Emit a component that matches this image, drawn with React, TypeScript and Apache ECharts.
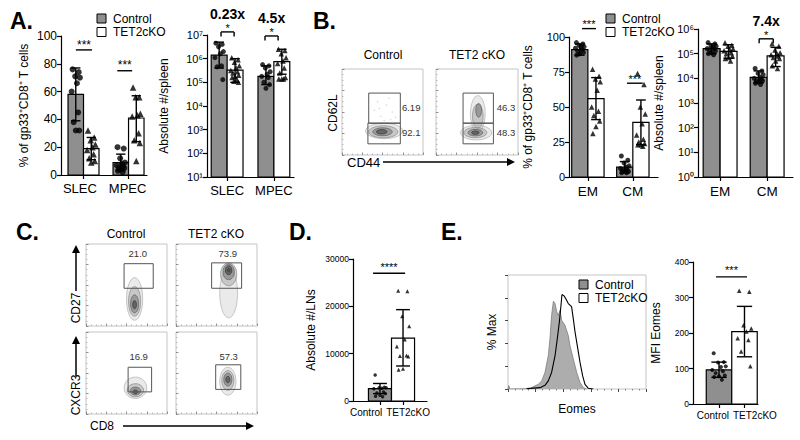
import React, { useEffect, useRef } from "react";
import * as echarts from "echarts";

const FONT = "'Liberation Sans', Arial, Helvetica, sans-serif";
const CTRL_FILL = "#8f8f8f";

// ---------------- Panel A (left): % of gp33+CD8+ T cells ----------------
const aCats = ["SLEC", "MPEC"];
const aPctCtrlMean = [58, 9];
const aPctKoMean = [19, 41];
const aPctCtrlErr = [[39, 77], [3, 15]];
const aPctKoErr = [[11, 27], [24, 57]];
const aPctCtrlPts = [[76, 74, 71, 70, 66, 60, 45, 38, 32, 32], [20, 19, 12, 9, 8, 7, 6, 5, 5, 4, 3, 2]];
const aPctKoPts = [[32, 27, 25, 22, 20, 18, 15, 12, 10, 9], [63, 56, 56, 44, 43, 42, 30, 25, 23, 10]];
const aPctStars = ["***", "***"];

// ---------------- Panel A (right): Absolute #/spleen ----------------
const aAbsCtrlMean = [1.4e6, 1.8e5];
const aAbsKoMean = [3.3e5, 7.5e5];
const aAbsCtrlErr = [[4e5, 5e6], [8e4, 5e5]];
const aAbsKoErr = [[1e5, 1e6], [2.2e5, 2.5e6]];
const aAbsCtrlPts = [[4.5e6, 4e6, 3.2e6, 2e6, 1.6e6, 1.1e6, 5e5, 4.5e5, 1.3e5], [5.6e5, 5e5, 4e5, 2.8e5, 2.2e5, 1.8e5, 1.6e5, 1e5, 8e4, 5.6e4]];
const aAbsKoPts = [[1.1e6, 9e5, 7e5, 5e5, 4e5, 3.2e5, 2.8e5, 2.5e5, 2e5, 1.8e5, 1.6e5, 1.3e5, 1.1e5, 1e5], [2.5e6, 2.2e6, 1.6e6, 1.1e6, 8e5, 6.3e5, 4e5, 2.5e5, 1.6e5, 1.4e5, 1.4e5, 1.4e5]];
const aAbsStars = ["*", "*"];
const aAbsFold = ["0.23x", "4.5x"];

// ---------------- Panel B (left): % EM / CM ----------------
const bCats = ["EM", "CM"];
const bPctCtrlMean = [91, 7];
const bPctKoMean = [56, 39];
const bPctCtrlErr = [[87, 95], [3, 11]];
const bPctKoErr = [[41, 71], [23, 55]];
const bPctCtrlPts = [[96, 95, 94, 93, 93, 92, 91, 90, 89, 88, 87], [15, 12, 10, 8, 7, 6, 5, 5, 4, 4, 3, 3]];
const bPctKoPts = [[77, 72, 70, 68, 62, 50, 47, 44, 40, 36, 31], [74, 66, 50, 45, 38, 30, 27, 25, 24, 23, 23, 22]];
const bPctStars = ["***", "***"];

// ---------------- Panel B (right): Absolute #/spleen ----------------
const bAbsCtrlMean = [1.6e5, 1.1e4];
const bAbsKoMean = [1.25e5, 8.2e4];
const bAbsCtrlErr = [[1e5, 2.5e5], [6.5e3, 2e4]];
const bAbsKoErr = [[6.5e4, 2.3e5], [3e4, 1.8e5]];
const bAbsCtrlPts = [[2.8e5, 2.5e5, 2e5, 2e5, 1.8e5, 1.6e5, 1.6e5, 1.4e5, 1.3e5, 1.1e5, 1e5, 9e4], [2.5e4, 2e4, 1.6e4, 1.4e4, 1.1e4, 1e4, 9e3, 8e3, 8e3, 7e3, 6.3e3, 5.6e3]];
const bAbsKoPts = [[2.8e5, 2.2e5, 2e5, 1.6e5, 1.4e5, 1.3e5, 1.1e5, 1e5, 8e4, 7e4, 6.3e4, 5e4], [2.5e5, 2e5, 1.4e5, 1.1e5, 1e5, 9e4, 8e4, 7e4, 6.3e4, 5e4, 3.2e4, 2.5e4]];
const bAbsStars = ["*"];
const bAbsFold = ["7.4x"];

// ---------------- Panel D: Absolute #/LNs ----------------
const dCats = ["Control", "TET2cKO"];
const dCtrlMean = [2600];
const dKoMean = [13300];
const dCtrlErr = [[1550, 3700]];
const dKoErr = [[7400, 19300]];
const dCtrlPts = [[5500, 2900, 2800, 2800, 2700, 2600, 1900, 1700, 1600, 1200, 1000, 900]];
const dKoPts = [[23300, 23200, 17900, 15800, 13000, 11500, 9600, 9500, 9400, 6800, 6600]];
const dStars = ["****"];

// ---------------- Panel E: MFI Eomes ----------------
const eCats = ["Control", "TET2cKO"];
const eCtrlMean = [96];
const eKoMean = [204];
const eCtrlErr = [[75, 118]];
const eKoErr = [[133, 275]];
const eCtrlPts = [[143, 118, 117, 106, 104, 96, 92, 87, 80, 78, 76, 68]];
const eKoPts = [[319, 316, 222, 213, 204, 185, 180, 148, 106]];
const eStars = ["***"];

// ---------------- Panel E histogram (% Max vs Eomes) ----------------
const eHistCtrlX = [0, 0.6, 1.3, 15.9, 18.4, 22.0, 24.4, 26.8, 29.2, 30.4, 31.6, 32.9, 34.1, 35.3, 36.5, 37.7, 38.9, 41.3, 43.7, 44.9, 47.3, 49.8, 52.2, 54.6, 57.0];
const eHistCtrlY = [0, 3, 0, 0.3, 2.1, 4.1, 7.1, 14.5, 29.2, 44.0, 64.6, 77.0, 74.9, 67.6, 64.6, 69.0, 60.2, 55.8, 46.9, 38.1, 26.3, 14.5, 5.6, 1.2, 0];
const eHistKoX = [13.5, 23.2, 26.8, 29.2, 31.6, 34.1, 35.7, 37.2, 38.4, 39.1, 40.6, 41.8, 43.7, 44.9, 46.1, 47.3, 48.6, 50.2, 52.2, 54.1, 55.8, 58.2, 61.8];
const eHistKoY = [0.3, 1.2, 3.2, 7.1, 14.5, 29.2, 44.0, 58.7, 73.5, 82.9, 81.7, 79.4, 74.9, 73.5, 72.0, 61.7, 49.9, 38.1, 23.3, 11.5, 4.1, 0.6, 0];

// ---------------- Flow plots (contours: cx, cy, rx, ry, level) ----------------
const bFlowCtrlContours = [[52, 28, 23, 9, 0], [51, 27, 18, 7, 1], [50, 27, 12, 4.6, 2], [49, 27, 6.5, 2.6, 3]];
const bFlowKoContours = [[51, 48, 9, 21, 0], [51, 45, 6.5, 14, 1], [52, 52, 3.5, 8, 2], [49, 26, 19, 8.5, 0], [48, 26, 14, 6, 1], [48, 26, 9, 3.8, 2], [48, 26, 4.5, 2, 3]];
const bFlowCtrlDots = [[44, 62], [55, 58], [62, 50], [48, 45], [58, 66], [66, 44], [40, 52], [52, 40], [60, 41], [46, 54]];
const bFlowCtrlGates = [[33, 37, 72, 72], [32, 13, 72, 37]];
const bFlowKoGates = [[33, 37, 70, 72], [33, 13, 70, 37]];
const bFlowCtrlPct = ["6.19", "92.1"];
const bFlowKoPct = ["46.3", "48.3"];
const bFlowPctPos = [[74, 55], [74, 26]];

const cCd27CtrlContours = [[60, 33, 10, 26, 0], [60, 30, 7.5, 18, 1], [60, 27, 5, 11, 2], [60, 26, 2.3, 5, 3]];
const cCd27KoContours = [[65, 40, 11, 30, 0], [65, 63, 10, 14, 1], [65, 66, 7, 9.5, 2], [65, 68, 4, 5.5, 3], [65, 68, 1.5, 2, 3]];
const cCxcr3CtrlContours = [[61, 32, 14, 13, 0], [61, 29, 10, 8, 1], [61, 28, 6.5, 4.8, 2], [61, 27, 3, 2.4, 3]];
const cCxcr3KoContours = [[64, 40, 10, 17, 0], [64, 41, 7.5, 12, 1], [64, 42, 5, 8, 2], [64, 42, 2.5, 4, 3]];
const cCd27CtrlGate = [[47, 46, 83, 76]];
const cCd27KoGate = [[44, 46, 81, 77]];
const cCxcr3CtrlGate = [[52, 27, 81, 57]];
const cCxcr3KoGate = [[49, 30, 80, 60]];
const cCd27CtrlPct = ["21.0"];
const cCd27KoPct = ["73.9"];
const cCxcr3CtrlPct = ["16.9"];
const cCxcr3KoPct = ["57.3"];
const cCd27PctPos = [[64, 89]];
const cCxcr3PctPos = [[65, 70]];

// fixed horizontal jitter pattern for the dot plots (fraction of a bar width)
const JIT = [-0.55, 0.5, -0.1, 0.7, 0.2, -0.7, 0.4, -0.35, 0.6, 0.0, -0.5, 0.3, -0.2, 0.55];

const SUP = ["⁰", "¹", "²", "³", "⁴", "⁵", "⁶", "⁷", "⁸", "⁹"];
const logLabel = (v: number) => "10" + SUP[Math.round(Math.log10(v))];

type BarSpec = {
  box: number[];
  xMin: number; xMax: number; barW: number;
  ctrlX: number[]; koX: number[]; tickPos: number[]; labelPos: number[]; labels: string[];
  log: boolean; yMin: number; yMax: number; yInterval?: number;
  ctrlMean: number[]; koMean: number[]; ctrlErr: number[][]; koErr: number[][];
  ctrlPts: number[][]; koPts: number[][];
  sig: number[][]; stars: string[]; folds: string[];
  yName: string; nameGap: number; tickFont: number; catFont: number;
  starFont: number; starGap: number; ptSize: number; labelMargin: number;
};

function buildOption() {
  const grid: any[] = [];
  const xAxis: any[] = [];
  const yAxis: any[] = [];
  const series: any[] = [];
  const black = { color: "#000", width: 1.2 };

  const addBarPanel = (s: BarSpec) => {
    const i = grid.length;
    grid.push({ left: s.box[0], top: s.box[1], width: s.box[2], height: s.box[3] });
    xAxis.push({
      gridIndex: i, type: "value", min: s.xMin, max: s.xMax,
      axisLine: { show: true, onZero: false, lineStyle: black },
      axisTick: { show: true, customValues: s.tickPos, length: 4, lineStyle: black },
      axisLabel: {
        customValues: s.labelPos, fontSize: s.catFont, fontFamily: FONT, color: "#000", margin: s.labelMargin,
        showMinLabel: true, showMaxLabel: true,
        formatter: (v: number) => { const k = s.labelPos.findIndex((p) => Math.abs(p - v) < 1e-6); return k >= 0 ? s.labels[k] : ""; },
      },
      splitLine: { show: false },
    });
    yAxis.push({
      gridIndex: i, type: s.log ? "log" : "value", logBase: 10, min: s.yMin, max: s.yMax,
      interval: s.log ? undefined : s.yInterval, splitNumber: s.log ? 10 : undefined,
      axisLine: { show: true, onZero: false, lineStyle: black },
      axisTick: { show: true, length: 4, lineStyle: black },
      axisLabel: { fontSize: s.tickFont, fontFamily: FONT, color: "#000", margin: 4, formatter: s.log ? logLabel : (v: number) => String(v) },
      splitLine: { show: false },
      name: s.yName, nameLocation: "middle", nameGap: s.nameGap, nameMoveOverlap: false,
      nameTextStyle: { fontSize: 12, fontFamily: FONT, color: "#000" },
    });
    const barSeries = (xs: number[], means: number[], fill: string) => ({
      type: "custom", xAxisIndex: i, yAxisIndex: i, z: 2, silent: true,
      data: xs.map((x, k) => [x, means[k]]),
      encode: { x: 0, y: 1 },
      renderItem: (_p: any, api: any) => {
        const x = api.value(0), y = api.value(1);
        const a = api.coord([x - s.barW / 2, y]);
        const b = api.coord([x + s.barW / 2, s.yMin]);
        return { type: "rect", shape: { x: a[0], y: a[1], width: b[0] - a[0], height: b[1] - a[1] }, style: { fill, stroke: "#000", lineWidth: 1.2 } };
      },
    });
    series.push(barSeries(s.ctrlX, s.ctrlMean, CTRL_FILL));
    series.push(barSeries(s.koX, s.koMean, "#fff"));
    const ptSeries = (xs: number[], pts: number[][], symbol: string, size: number) => {
      const data: number[][] = [];
      pts.forEach((grp, k) => grp.forEach((v, j) => data.push([xs[k] + JIT[j % JIT.length] * s.barW * 0.38, v])));
      return { type: "scatter", xAxisIndex: i, yAxisIndex: i, z: 4, silent: true, symbol, symbolSize: size, itemStyle: { color: "#000" }, data };
    };
    series.push(ptSeries(s.ctrlX, s.ctrlPts, "circle", s.ptSize));
    series.push(ptSeries(s.koX, s.koPts, "triangle", s.ptSize + 0.5));
    const errSeries = (xs: number[], errs: number[][]) => ({
      type: "custom", xAxisIndex: i, yAxisIndex: i, z: 5, silent: true,
      data: xs.map((x, k) => [x, errs[k][0], errs[k][1]]),
      encode: { x: 0, y: [1, 2] },
      renderItem: (_p: any, api: any) => {
        const x = api.value(0);
        const t = api.coord([x, api.value(2)]);
        const b = api.coord([x, api.value(1)]);
        const hw = (api.coord([x + s.barW * 0.3, api.value(2)])[0] - t[0]);
        const st = { stroke: "#000", lineWidth: 1.4 };
        return {
          type: "group", children: [
            { type: "line", shape: { x1: t[0], y1: t[1], x2: b[0], y2: b[1] }, style: st },
            { type: "line", shape: { x1: t[0] - hw, y1: t[1], x2: t[0] + hw, y2: t[1] }, style: st },
            { type: "line", shape: { x1: b[0] - hw, y1: b[1], x2: b[0] + hw, y2: b[1] }, style: st },
          ],
        };
      },
    });
    series.push(errSeries(s.ctrlX, s.ctrlErr));
    series.push(errSeries(s.koX, s.koErr));
    series.push({
      type: "custom", xAxisIndex: i, yAxisIndex: i, z: 6, silent: true,
      data: s.sig,
      encode: { x: [0, 1], y: 2 },
      renderItem: (p: any, api: any) => {
        const k = p.dataIndex;
        const y = api.value(2);
        const a = api.coord([api.value(0), y]);
        const b = api.coord([api.value(1), y]);
        const st = { stroke: "#000", lineWidth: 1.4 };
        const children: any[] = [{ type: "line", shape: { x1: a[0], y1: a[1], x2: b[0], y2: b[1] }, style: st }];
        if (api.value(3) === 1) {
          children.push({ type: "line", shape: { x1: a[0], y1: a[1], x2: a[0], y2: a[1] + 4.5 }, style: st });
          children.push({ type: "line", shape: { x1: b[0], y1: b[1], x2: b[0], y2: b[1] + 4.5 }, style: st });
        }
        const cx = (a[0] + b[0]) / 2;
        children.push({ type: "text", x: cx, y: a[1] - s.starGap + 0.22 * s.starFont, style: { text: s.stars[k], fontSize: s.starFont, fontFamily: FONT, fill: "#000", align: "center", verticalAlign: "middle" } });
        if (s.folds[k]) {
          children.push({ type: "text", x: cx, y: a[1] - 18, style: { text: s.folds[k], fontSize: 14, fontWeight: "bold", fontFamily: FONT, fill: "#000", align: "center", verticalAlign: "middle" } });
        }
        return { type: "group", children };
      },
    });
  };

  const pair = (w: number) => ({ ctrlX: [-w / 2, 1 - w / 2], koX: [w / 2, 1 + w / 2] });

  addBarPanel({
    box: [61, 36, 86, 139], xMin: -0.5, xMax: 1.41, barW: 0.344, ...pair(0.344), tickPos: [0, 1], labelPos: [-0.08, 0.98], labels: aCats,
    log: false, yMin: 0, yMax: 100, yInterval: 20,
    ctrlMean: aPctCtrlMean, koMean: aPctKoMean, ctrlErr: aPctCtrlErr, koErr: aPctKoErr, ctrlPts: aPctCtrlPts, koPts: aPctKoPts,
    sig: [[-0.17, 0.19, 90, 0], [0.75, 1.08, 75, 0]], stars: aPctStars, folds: ["", ""],
    yName: "% of gp33⁺CD8⁺ T cells", nameGap: 31, tickFont: 12, catFont: 13, starFont: 12, starGap: 8, ptSize: 6, labelMargin: 7,
  });
  addBarPanel({
    box: [207, 35, 87, 142], xMin: -0.43, xMax: 1.43, barW: 0.34, ...pair(0.34), tickPos: [0, 1], labelPos: [0, 1], labels: aCats,
    log: true, yMin: 10, yMax: 1e7,
    ctrlMean: aAbsCtrlMean, koMean: aAbsKoMean, ctrlErr: aAbsCtrlErr, koErr: aAbsKoErr, ctrlPts: aAbsCtrlPts, koPts: aAbsKoPts,
    sig: [[-0.13, 0.15, 1.35e7, 1], [0.81, 1.09, 9.1e6, 1]], stars: aAbsStars, folds: aAbsFold,
    yName: "Absolute #/spleen", nameGap: 37, tickFont: 11, catFont: 13, starFont: 11, starGap: 6, ptSize: 5, labelMargin: 7,
  });
  addBarPanel({
    box: [569, 37, 89, 140], xMin: -0.42, xMax: 1.56, barW: 0.36, ...pair(0.36), tickPos: [0, 1], labelPos: [0, 1], labels: bCats,
    log: false, yMin: 0, yMax: 100, yInterval: 25,
    ctrlMean: bPctCtrlMean, koMean: bPctKoMean, ctrlErr: bPctCtrlErr, koErr: bPctKoErr, ctrlPts: bPctCtrlPts, koPts: bPctKoPts,
    sig: [[-0.13, 0.18, 106, 0], [0.87, 1.22, 67, 0]], stars: bPctStars, folds: ["", ""],
    yName: "% of gp33⁺CD8⁺ T cells", nameGap: 35, tickFont: 11, catFont: 13.5, starFont: 11, starGap: 7, ptSize: 5, labelMargin: 7,
  });
  addBarPanel({
    box: [698, 29, 95, 148], xMin: -0.47, xMax: 1.55, barW: 0.36, ...pair(0.36), tickPos: [0, 1], labelPos: [0, 1], labels: bCats,
    log: true, yMin: 1, yMax: 1e6,
    ctrlMean: bAbsCtrlMean, koMean: bAbsKoMean, ctrlErr: bAbsCtrlErr, koErr: bAbsKoErr, ctrlPts: bAbsCtrlPts, koPts: bAbsKoPts,
    sig: [[0.83, 1.13, 4e5, 1]], stars: bAbsStars, folds: bAbsFold,
    yName: "Absolute #/spleen", nameGap: 33, tickFont: 11, catFont: 13.5, starFont: 11, starGap: 6, ptSize: 5, labelMargin: 7,
  });
  addBarPanel({
    box: [353, 259, 74, 142], xMin: -1.17, xMax: 2.04, barW: 1.0, ctrlX: [0], koX: [1], tickPos: [0, 1], labelPos: [-0.6, 1.22], labels: dCats,
    log: false, yMin: 0, yMax: 30000, yInterval: 10000,
    ctrlMean: dCtrlMean, koMean: dKoMean, ctrlErr: dCtrlErr, koErr: dKoErr, ctrlPts: dCtrlPts, koPts: dKoPts,
    sig: [[-0.3, 1.09, 27000, 0]], stars: dStars, folds: [""],
    yName: "Absolute #/LNs", nameGap: 36, tickFont: 8.5, catFont: 10, starFont: 11, starGap: 9, ptSize: 3.5, labelMargin: 6,
  });
  addBarPanel({
    box: [693, 262, 65, 142], xMin: -1.02, xMax: 1.53, barW: 1.0, ctrlX: [0], koX: [1], tickPos: [0, 1], labelPos: [-0.24, 1.41], labels: eCats,
    log: false, yMin: 0, yMax: 400, yInterval: 100,
    ctrlMean: eCtrlMean, koMean: eKoMean, ctrlErr: eCtrlErr, koErr: eKoErr, ctrlPts: eCtrlPts, koPts: eKoPts,
    sig: [[-0.12, 1.1, 358, 0]], stars: eStars, folds: [""],
    yName: "MFI Eomes", nameGap: 31, tickFont: 8.5, catFont: 10, starFont: 11, starGap: 9, ptSize: 4, labelMargin: 6,
  });

  // ---------- flow plots ----------
  const shade = ["rgba(185,185,185,0.3)", "rgba(150,150,150,0.42)", "rgba(115,115,115,0.55)", "rgba(80,80,80,0.7)"];
  const ring = ["#b0b0b0", "#8a8a8a", "#5e5e5e", "#333"];
  const flowAxis = (i: number) => ({
    gridIndex: i, type: "value", min: 0, max: 100, interval: 25,
    axisLine: { show: false, onZero: false },
    axisTick: { show: true, inside: true, length: 2.5, lineStyle: { color: "#777", width: 0.8 } },
    minorTick: { show: true, splitNumber: 4, length: 1.5, lineStyle: { color: "#999", width: 0.6 } },
    axisLabel: { show: false }, splitLine: { show: false },
  });
  const addFlow = (box: number[], contours: number[][], gates: number[][], pcts: string[], pctPos: number[][], align: string, dots?: number[][]) => {
    const i = grid.length;
    grid.push({ left: box[0], top: box[1], width: box[2], height: box[3], show: true, borderColor: "#c4c4c4", borderWidth: 1 });
    xAxis.push(flowAxis(i));
    yAxis.push(flowAxis(i));
    if (dots) {
      series.push({ type: "scatter", xAxisIndex: i, yAxisIndex: i, silent: true, symbolSize: 1.3, itemStyle: { color: "#c0c0c0" }, data: dots, z: 2 });
    }
    series.push({
      type: "custom", xAxisIndex: i, yAxisIndex: i, silent: true, z: 3, data: contours,
      encode: { x: 0, y: 1 },
      renderItem: (_p: any, api: any) => {
        const c = api.coord([api.value(0), api.value(1)]);
        const sz = api.size([api.value(2), api.value(3)]);
        const lv = api.value(4);
        return { type: "ellipse", shape: { cx: c[0], cy: c[1], rx: sz[0], ry: sz[1] }, style: { fill: shade[lv], stroke: ring[lv], lineWidth: 0.7 } };
      },
    });
    series.push({
      type: "custom", xAxisIndex: i, yAxisIndex: i, silent: true, z: 4, data: gates,
      encode: { x: [0, 2], y: [1, 3] },
      renderItem: (_p: any, api: any) => {
        const a = api.coord([api.value(0), api.value(3)]);
        const b = api.coord([api.value(2), api.value(1)]);
        return { type: "rect", shape: { x: a[0], y: a[1], width: b[0] - a[0], height: b[1] - a[1] }, style: { fill: "none", stroke: "#555", lineWidth: 1 } };
      },
    });
    series.push({
      type: "custom", xAxisIndex: i, yAxisIndex: i, silent: true, z: 5, data: pctPos,
      encode: { x: 0, y: 1 },
      renderItem: (p: any, api: any) => {
        const c = api.coord([api.value(0), api.value(1)]);
        return { type: "text", x: c[0], y: c[1], style: { text: pcts[p.dataIndex], fontSize: 9.5, fontFamily: FONT, fill: "#333", align, verticalAlign: "middle" } };
      },
    });
  };
  addFlow([342, 69, 81, 86], bFlowCtrlContours, bFlowCtrlGates, bFlowCtrlPct, bFlowPctPos, "left", bFlowCtrlDots);
  addFlow([436, 69, 82, 86], bFlowKoContours, bFlowKoGates, bFlowKoPct, bFlowPctPos, "left");
  addFlow([86, 244, 81, 82], cCd27CtrlContours, cCd27CtrlGate, cCd27CtrlPct, cCd27PctPos, "center");
  addFlow([176, 244, 81, 82], cCd27KoContours, cCd27KoGate, cCd27KoPct, cCd27PctPos, "center");
  addFlow([86, 332, 81, 82], cCxcr3CtrlContours, cCxcr3CtrlGate, cCxcr3CtrlPct, cCxcr3PctPos, "center");
  addFlow([176, 332, 81, 82], cCxcr3KoContours, cCxcr3KoGate, cCxcr3KoPct, cCxcr3PctPos, "center");

  // ---------- histogram ----------
  const h = grid.length;
  grid.push({ left: 508, top: 275, width: 138, height: 114, show: true, borderColor: "#c4c4c4", borderWidth: 1 });
  xAxis.push({
    gridIndex: h, type: "value", min: 0, max: 100, interval: 20,
    axisLine: { show: false, onZero: false },
    axisTick: { show: true, length: 3, lineStyle: { color: "#333", width: 0.9 } },
    minorTick: { show: true, splitNumber: 4, length: 1.5, lineStyle: { color: "#555", width: 0.7 } },
    axisLabel: { show: false }, splitLine: { show: false },
    name: "Eomes", nameLocation: "middle", nameGap: 14, nameTextStyle: { fontSize: 12, fontFamily: FONT, color: "#000" },
  });
  yAxis.push({
    gridIndex: h, type: "value", min: 0, max: 100, interval: 20,
    axisLine: { show: false, onZero: false },
    axisTick: { show: true, length: 3, lineStyle: { color: "#333", width: 0.9 } },
    axisLabel: { show: false }, splitLine: { show: false },
    name: "% Max", nameLocation: "middle", nameGap: 10, nameTextStyle: { fontSize: 12, fontFamily: FONT, color: "#000" },
  });
  series.push({
    type: "line", xAxisIndex: h, yAxisIndex: h, silent: true, showSymbol: false, z: 2,
    data: eHistCtrlX.map((x, k) => [x, eHistCtrlY[k]]),
    lineStyle: { color: "#7d7d7d", width: 0.8 }, areaStyle: { color: "#adadad", opacity: 1 },
  });
  series.push({
    type: "line", xAxisIndex: h, yAxisIndex: h, silent: true, showSymbol: false, z: 3,
    data: eHistKoX.map((x, k) => [x, eHistKoY[k]]),
    lineStyle: { color: "#000", width: 1.1 },
  });

  // ---------- graphics: letters, legends, flow titles, arrows ----------
  const txt = (x: number, y: number, text: string, size: number, opts: any = {}) => ({
    type: "text", x, y, rotation: opts.rotation || 0,
    style: { text, fontSize: size, fontFamily: FONT, fontWeight: opts.bold ? "bold" : "normal", fill: "#000", align: opts.align || "left", verticalAlign: "middle" },
  });
  const legend = (x: number, y: number) => [
    { type: "rect", shape: { x, y, width: 9, height: 9 }, style: { fill: CTRL_FILL, stroke: "#000", lineWidth: 1 } },
    { type: "rect", shape: { x, y: y + 13.5, width: 9, height: 9 }, style: { fill: "#fff", stroke: "#000", lineWidth: 1 } },
    txt(x + 16, y + 4.5, "Control", 12),
    txt(x + 16, y + 18, "TET2cKO", 12),
  ];
  const arrowH = (x1: number, x2: number, y: number) => [
    { type: "line", shape: { x1, y1: y, x2: x2 - 6, y2: y }, style: { stroke: "#000", lineWidth: 1.5 } },
    { type: "polygon", shape: { points: [[x2 - 8, y - 4], [x2, y], [x2 - 8, y + 4]] }, style: { fill: "#000" } },
  ];
  const arrowV = (x: number, y1: number, y2: number) => [
    { type: "line", shape: { x1: x, y1, x2: x, y2: y2 + 6 }, style: { stroke: "#000", lineWidth: 1.5 } },
    { type: "polygon", shape: { points: [[x - 4, y2 + 8], [x, y2], [x + 4, y2 + 8]] }, style: { fill: "#000" } },
  ];
  const R = Math.PI / 2;
  const graphic: any[] = [
    txt(10, 21, "A.", 23, { bold: true }),
    txt(313, 21, "B.", 23, { bold: true }),
    txt(16, 232, "C.", 23, { bold: true }),
    txt(289, 232, "D.", 23, { bold: true }),
    txt(441, 232, "E.", 23, { bold: true }),
    ...legend(97, 14),
    ...legend(606, 14),
    ...legend(579, 280),
    txt(383, 55, "Control", 12, { align: "center" }),
    txt(477, 55, "TET2 cKO", 12, { align: "center" }),
    txt(126, 234, "Control", 12, { align: "center" }),
    txt(216, 234, "TET2 cKO", 12, { align: "center" }),
    txt(347, 162, "CD44", 13),
    ...arrowH(383, 515, 162),
    txt(333, 113, "CD62L", 12, { align: "center", rotation: R }),
    txt(76, 308, "CD27", 12, { align: "center", rotation: R }),
    ...arrowV(76, 291, 245),
    txt(76, 395, "CXCR3", 12, { align: "center", rotation: R }),
    ...arrowV(76, 376, 336),
    txt(90, 426, "CD8", 12),
    ...arrowH(123, 254, 426),
  ];

  return {
    animation: false,
    backgroundColor: "#fff",
    textStyle: { fontFamily: FONT },
    grid, xAxis, yAxis, series, graphic,
  };
}

export default function App() {
  const ref = useRef<HTMLDivElement>(null);
  useEffect(() => {
    document.body.style.margin = "0";
    const chart = echarts.init(ref.current as HTMLDivElement, null, { renderer: "svg" });
    chart.setOption(buildOption() as any);
    return () => chart.dispose();
  }, []);
  return <div ref={ref} style={{ position: "absolute", left: 0, top: 0, width: 800, height: 440, background: "#fff" }} />;
}
